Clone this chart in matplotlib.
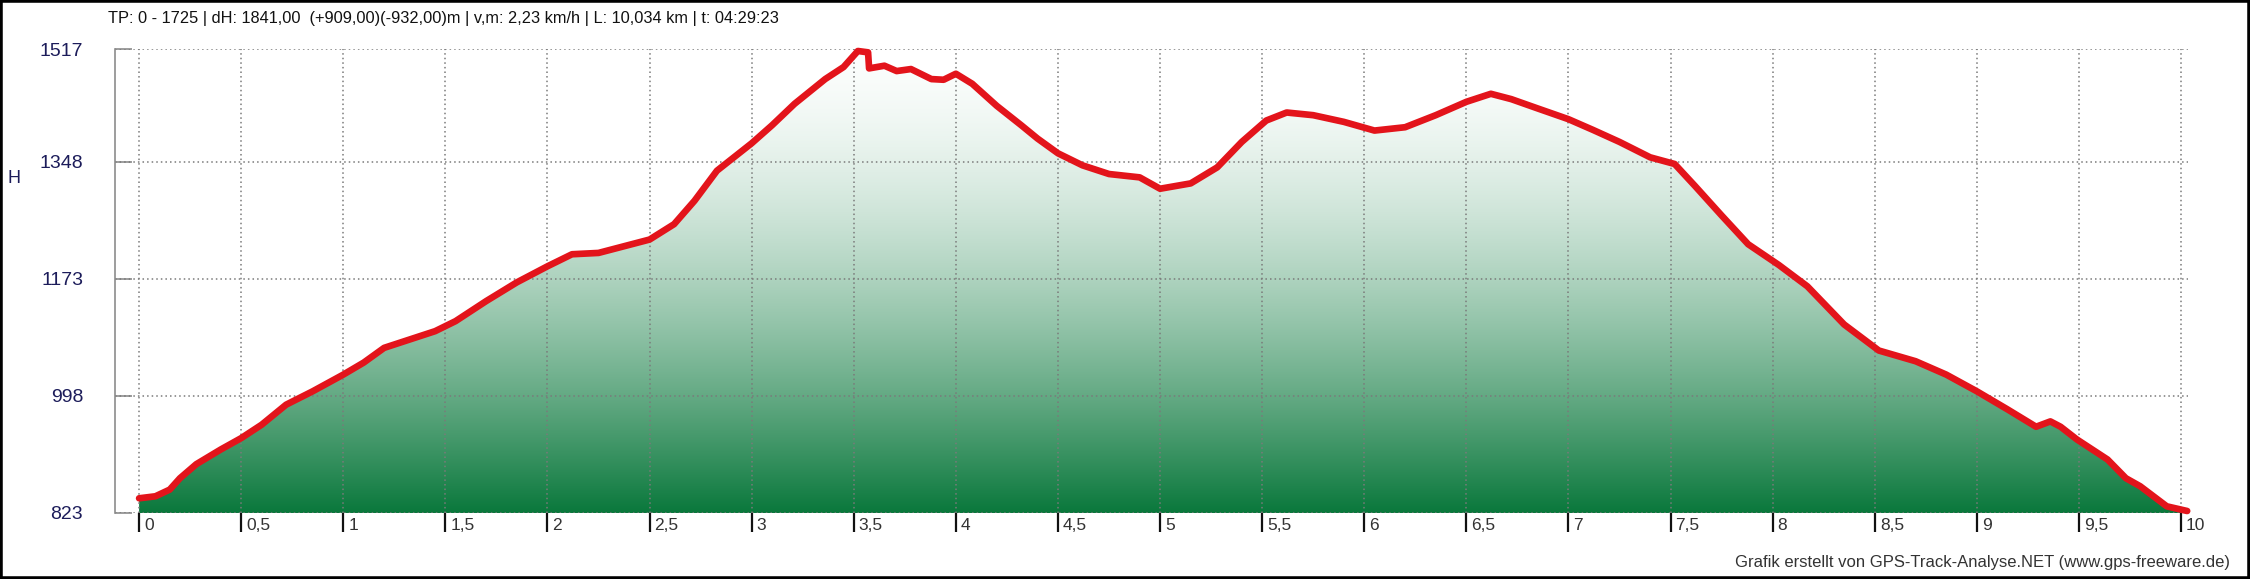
import numpy as np
import matplotlib
matplotlib.use("Agg")
import matplotlib.pyplot as plt
from matplotlib.colors import LinearSegmentedColormap
from matplotlib.patches import Rectangle
import matplotlib.transforms as mtransforms

plt.rcParams['font.family'] = ['Liberation Sans', 'DejaVu Sans']

# Höhenprofil (km, m)
strecke_km = [0.00, 0.08, 0.15, 0.20, 0.28, 0.40, 0.50, 0.60, 0.72, 0.85,
              1.00, 1.10, 1.20, 1.30, 1.45, 1.55, 1.70, 1.85, 2.00, 2.12,
              2.25, 2.35, 2.50, 2.62, 2.72, 2.83, 3.00, 3.10, 3.21, 3.36,
              3.45, 3.52, 3.57, 3.575, 3.65, 3.71, 3.78, 3.88, 3.94, 4.00,
              4.08, 4.20, 4.32, 4.40, 4.50, 4.62, 4.75, 4.90, 5.00, 5.15,
              5.28, 5.40, 5.52, 5.62, 5.75, 5.90, 6.05, 6.20, 6.35, 6.50,
              6.62, 6.72, 6.85, 7.00, 7.12, 7.25, 7.40, 7.52, 7.62, 7.75,
              7.88, 8.03, 8.17, 8.35, 8.52, 8.70, 8.85, 9.00, 9.15, 9.29,
              9.36, 9.41, 9.49, 9.64, 9.73, 9.80, 9.93, 10.03]
hoehe_m = [845, 848, 858, 875, 896, 918, 935, 955, 985, 1005,
           1030, 1048, 1070, 1080, 1095, 1110, 1140, 1168, 1192, 1210,
           1212, 1220, 1232, 1255, 1290, 1335, 1376, 1403, 1435, 1472,
           1490, 1514, 1512, 1488, 1492, 1484, 1487, 1472, 1471, 1480,
           1465, 1432, 1403, 1383, 1361, 1343, 1330, 1325, 1308, 1316,
           1340, 1378, 1410, 1422, 1418, 1408, 1395, 1400, 1418, 1438,
           1450, 1442, 1428, 1412, 1396, 1378, 1355, 1345, 1312, 1268,
           1225, 1194, 1162, 1105, 1066, 1050, 1030, 1005, 978, 952,
           960, 952, 933, 903, 875, 863, 833, 826]

y_ticks = [823, 998, 1173, 1348, 1517]
x_ticks = [0, 0.5, 1, 1.5, 2, 2.5, 3, 3.5, 4, 4.5, 5, 5.5, 6, 6.5, 7, 7.5,
           8, 8.5, 9, 9.5, 10]
x_labels = ['0', '0,5', '1', '1,5', '2', '2,5', '3', '3,5', '4', '4,5', '5',
            '5,5', '6', '6,5', '7', '7,5', '8', '8,5', '9', '9,5', '10']

titel = ("TP: 0 - 1725 | dH: 1841,00  (+909,00)(-932,00)m | v,m: 2,23 km/h"
         " | L: 10,034 km | t: 04:29:23")
credit = "Grafik erstellt von GPS-Track-Analyse.NET (www.gps-freeware.de)"

W, H = 2250, 579
fig = plt.figure(figsize=(W / 100, H / 100), dpi=100)
ax = fig.add_axes([115 / W, (H - 513) / H, (2188 - 115) / W, (513 - 49) / H])

xmin, xmax = -0.118, 10.034
ymin, ymax = 823, 1517
ax.set_xlim(xmin, xmax)
ax.set_ylim(ymin, ymax)

# Farbverlauf unter der Kurve (oben fast weiß, unten dunkelgrün)
t = np.linspace(0, 1, 256) ** 1.6
oben = np.array([252, 254, 253]) / 255
unten = np.array([10, 120, 60]) / 255
farben = oben[None, :] * (1 - t[:, None]) + unten[None, :] * t[:, None]
cmap = LinearSegmentedColormap.from_list('gruen', farben)
grad = np.linspace(0, 1, 256)[:, None]
img = ax.imshow(grad, cmap=cmap, aspect='auto', extent=[xmin, xmax, ymin, ymax],
                origin='upper', zorder=1)
poly = ax.fill_between(strecke_km, hoehe_m, ymin, color='none', zorder=1)
img.set_clip_path(poly.get_paths()[0], transform=ax.transData)
ax.set_xlim(xmin, xmax)
ax.set_ylim(ymin, ymax)

# Gitter
for yv in y_ticks:
    ax.axhline(yv, color='#7a7a7a', lw=1.1, ls=(0, (1, 2)), zorder=2)
for xv in x_ticks:
    ax.axvline(xv, color='#7a7a7a', lw=1.1, ls=(0, (1, 2)), zorder=2)

ax.plot(strecke_km, hoehe_m, color='#e3141b', lw=4.8, solid_joinstyle='round',
        solid_capstyle='round', zorder=3, clip_on=False)

for s in ['top', 'right', 'bottom']:
    ax.spines[s].set_visible(False)
ax.spines['left'].set_color('#8c8c8c')
ax.spines['left'].set_linewidth(1.2)

ax.set_yticks(y_ticks)
ax.set_yticklabels([str(v) for v in y_ticks], color='#1c1c5a', fontsize=14)
ax.tick_params(axis='y', direction='in', length=12, width=1.2, color='#8c8c8c',
               pad=23)

ax.set_xticks(x_ticks)
ax.set_xticklabels([])
ax.tick_params(axis='x', direction='out', length=14, width=1.6, color='#111111')

trans = mtransforms.blended_transform_factory(ax.transData, ax.transAxes)
off = mtransforms.ScaledTranslation(5 / 100, -13 / 100, fig.dpi_scale_trans)
for xv, lab in zip(x_ticks, x_labels):
    ax.text(xv, 0, lab, transform=trans + off, ha='left', va='center',
            fontsize=12.5, color='#333333')

fig.text(14 / W, 1 - 178 / H, 'H', ha='center', va='center', fontsize=13,
         color='#1c1c5a')
fig.text(108 / W, 1 - 19 / H, titel, ha='left', va='center', fontsize=11.8,
         color='#111111')
fig.text(2230 / W, 1 - 562 / H, credit, ha='right', va='center', fontsize=12,
         color='#333333')

fig.patches.append(Rectangle((0, 0), 1, 1, transform=fig.transFigure,
                             fill=False, edgecolor='black', lw=4, zorder=10))

fig.savefig('out.png', dpi=100, facecolor='white')
